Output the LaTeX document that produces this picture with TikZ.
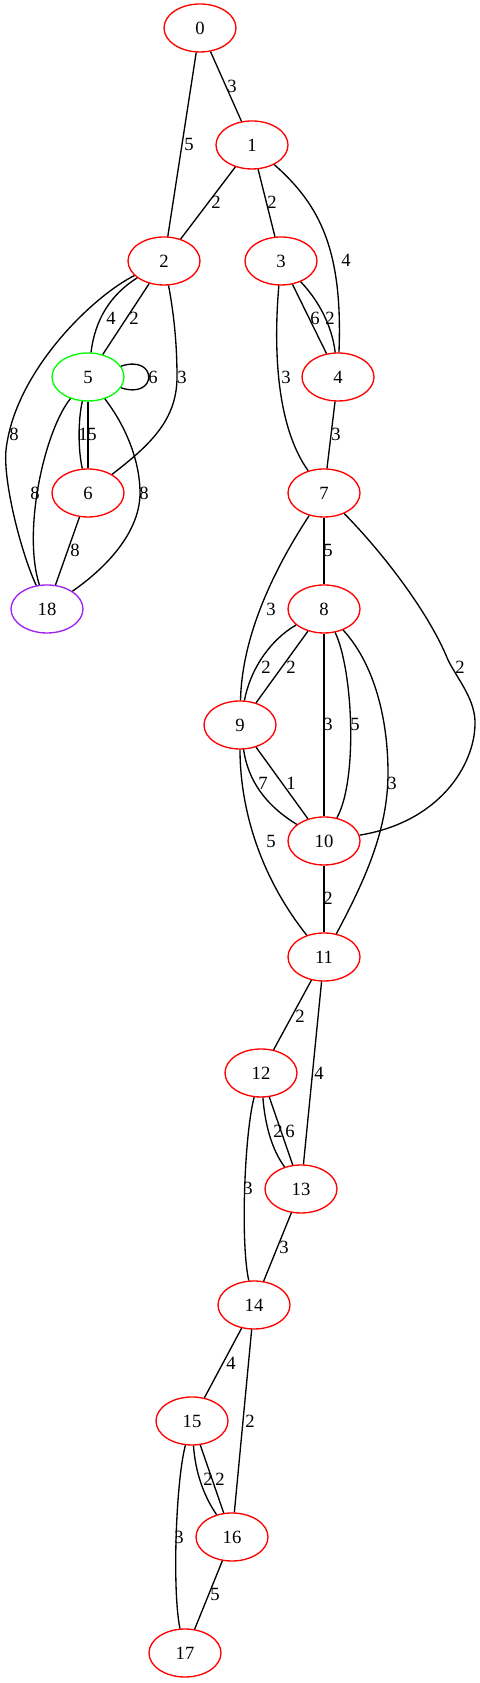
\documentclass[tikz,border=0pt]{standalone}
\usepackage{fontspec}
\setmainfont{Liberation Serif}
\usetikzlibrary{shapes.geometric}
\definecolor{vtxred}{HTML}{FF0000}
\definecolor{vtxgreen}{HTML}{00FF00}
\definecolor{vtxpurple}{HTML}{A020F0}
\begin{document}
\begin{tikzpicture}[>=latex,line join=bevel,
  vertex/.style={ellipse,draw=vtxred,line width=1bp,minimum width=54bp,minimum height=36bp,inner sep=0pt,font=\fontsize{14bp}{16bp}\selectfont},
  elabel/.style={inner sep=0pt,font=\fontsize{14bp}{16bp}\selectfont},
  edge/.style={black,line width=1bp}]
\useasboundingbox (0bp,0bp) rectangle (360bp,1262.25bp);
%%
\node (node_0) at (150bp,1241.25bp) [vertex] {0};
  \node (node_1) at (189bp,1153.5bp) [vertex] {1};
  \node (node_2) at (123bp,1066.5bp) [vertex] {2};
  \node (node_3) at (210.75bp,1066.5bp) [vertex] {3};
  \node (node_4) at (253.5bp,979.5bp) [vertex] {4};
  \node (node_5) at (66bp,979.5bp) [vertex,draw=vtxgreen] {5};
  \node (node_6) at (66bp,892.5bp) [vertex] {6};
  \node (node_7) at (243bp,892.5bp) [vertex] {7};
  \node (node_8) at (243bp,805.5bp) [vertex] {8};
  \node (node_9) at (180bp,718.5bp) [vertex] {9};
  \node (node_10) at (243bp,631.5bp) [vertex] {10};
  \node (node_11) at (243bp,544.5bp) [vertex] {11};
  \node (node_12) at (195.75bp,457.5bp) [vertex] {12};
  \node (node_13) at (225.75bp,370.5bp) [vertex] {13};
  \node (node_14) at (190.5bp,283.5bp) [vertex] {14};
  \node (node_15) at (144bp,196.5bp) [vertex] {15};
  \node (node_16) at (174bp,109.5bp) [vertex] {16};
  \node (node_17) at (138.75bp,22.5bp) [vertex] {17};
  \node (node_18) at (35.25bp,805.5bp) [vertex,draw=vtxpurple] {18};
%
  \draw [edge] (node_0) -- (node_1);
  \node (lbl_0_1) at (174bp,1197.75bp) [elabel] {3};
  \draw [edge] (node_0) -- (node_2);
  \node (lbl_0_2) at (141.75bp,1154.25bp) [elabel] {5};
  \draw [edge] (node_1) -- (node_2);
  \node (lbl_1_2) at (162bp,1110.75bp) [elabel] {2};
  \draw [edge] (node_1) -- (node_3);
  \node (lbl_1_3) at (204bp,1110.75bp) [elabel] {2};
  \draw [edge] (node_1) .. controls (240bp,1108.5bp) and (257.25bp,1074.75bp) .. (node_4);
  \node (lbl_1_4) at (259.5bp,1067.25bp) [elabel] {4};
  \draw [edge] (node_2) .. controls (82.5bp,1041bp) and (71.25bp,1022.25bp) .. (node_5);
  \node (lbl_2_5a) at (83.25bp,1023.75bp) [elabel] {4};
  \draw [edge] (node_2) -- (node_5);
  \node (lbl_2_5b) at (100.5bp,1023.75bp) [elabel] {2};
  \draw [edge] (node_2) .. controls (131.25bp,1022.25bp) and (132.75bp,999.75bp) .. (132.75bp,979.5bp)
    .. controls (132.75bp,947.25bp) and (112.5bp,928.5bp) .. (node_6);
  \node (lbl_2_6) at (136.5bp,979.5bp) [elabel] {3};
  \draw [edge] (node_2) .. controls (71.25bp,1041bp) and (11.25bp,984.75bp) .. (4.5bp,924.75bp)
    .. controls (2.25bp,902.25bp) and (15bp,849.75bp) .. (node_18);
  \node (lbl_2_18) at (10.5bp,936.75bp) [elabel] {8};
  \draw [edge] (node_3) -- (node_4);
  \node (lbl_3_4a) at (236.25bp,1023.75bp) [elabel] {6};
  \draw [edge] (node_3) .. controls (238.5bp,1037.25bp) and (249bp,1018.5bp) .. (node_4);
  \node (lbl_3_4b) at (247.5bp,1023.75bp) [elabel] {2};
  \draw [edge] (node_3) .. controls (206.25bp,1014.75bp) and (204bp,947.25bp) .. (node_7);
  \node (lbl_3_7) at (214.5bp,979.5bp) [elabel] {3};
  \draw [edge] (node_4) -- (node_7);
  \node (lbl_4_7) at (252bp,936.75bp) [elabel] {3};
  \draw [edge] (node_5) .. controls (118.5bp,996.75bp) and (118.5bp,962.25bp) .. (node_5);
  \node (lbl_5_5) at (114.75bp,979.5bp) [elabel] {6};
  \draw [edge] (node_5) .. controls (58.5bp,947.25bp) and (58.5bp,924.75bp) .. (node_6);
  \node (lbl_5_6a) at (62.25bp,936.75bp) [elabel] {1};
  \draw [edge] (node_5) -- (node_6);
  \node (lbl_5_6b) at (69bp,936.75bp) [elabel] {5};
  \draw [edge] (node_5) .. controls (33.75bp,939.75bp) and (16.5bp,864.75bp) .. (node_18);
  \node (lbl_5_18a) at (26.25bp,892.5bp) [elabel] {8};
  \draw [edge] (node_5) .. controls (93.75bp,943.5bp) and (105bp,917.25bp) .. (105bp,892.5bp)
    .. controls (105bp,864.75bp) and (82.5bp,838.5bp) .. (node_18);
  \node (lbl_5_18b) at (108bp,892.5bp) [elabel] {8};
  \draw [edge] (node_6) -- (node_18);
  \node (lbl_6_18) at (56.25bp,849.75bp) [elabel] {8};
  \draw [edge] (node_7) -- (node_8);
  \node (lbl_7_8) at (246bp,849.75bp) [elabel] {5};
  \draw [edge] (node_7) .. controls (210bp,842.25bp) and (181.5bp,789.75bp) .. (node_9);
  \node (lbl_7_9) at (203.25bp,805.5bp) [elabel] {3};
  \draw [edge] (node_7) .. controls (288.75bp,846bp) and (322.5bp,801bp) .. (336bp,767.25bp)
    .. controls (343.5bp,752.25bp) and (357bp,737.25bp) .. (356.25bp,718.5bp)
    .. controls (355.5bp,688.5bp) and (330bp,645.75bp) .. (node_10);
  \node (lbl_7_10) at (345bp,762bp) [elabel] {2};
  \draw [edge] (node_8) .. controls (202.5bp,782.25bp) and (187.5bp,759.75bp) .. (node_9);
  \node (lbl_8_9a) at (199.5bp,762bp) [elabel] {2};
  \draw [edge] (node_8) -- (node_9);
  \node (lbl_8_9b) at (218.25bp,762bp) [elabel] {2};
  \draw [edge] (node_8) -- (node_10);
  \node (lbl_8_10a) at (246bp,719.25bp) [elabel] {3};
  \draw [edge] (node_8) .. controls (264.75bp,759.75bp) and (268.5bp,677.25bp) .. (node_10);
  \node (lbl_8_10b) at (266.25bp,719.25bp) [elabel] {5};
  \draw [edge] (node_8) .. controls (281.25bp,763.5bp) and (291bp,722.25bp) .. (291bp,682.5bp)
    .. controls (291bp,639.75bp) and (273.75bp,602.25bp) .. (node_11);
  \node (lbl_8_11) at (294bp,675bp) [elabel] {3};
  \draw [edge] (node_9) .. controls (186bp,677.25bp) and (198.75bp,658.5bp) .. (node_10);
  \node (lbl_9_10a) at (197.25bp,675bp) [elabel] {7};
  \draw [edge] (node_9) -- (node_10);
  \node (lbl_9_10b) at (218.25bp,675bp) [elabel] {1};
  \draw [edge] (node_9) .. controls (180bp,662.25bp) and (191.25bp,609.75bp) .. (node_11);
  \node (lbl_9_11) at (203.25bp,631.5bp) [elabel] {5};
  \draw [edge] (node_10) -- (node_11);
  \node (lbl_10_11) at (246bp,588.75bp) [elabel] {2};
  \draw [edge] (node_11) -- (node_12);
  \node (lbl_11_12) at (225bp,500.25bp) [elabel] {2};
  \draw [edge] (node_11) -- (node_13);
  \node (lbl_11_13) at (239.25bp,457.5bp) [elabel] {4};
  \draw [edge] (node_12) .. controls (198.75bp,418.5bp) and (204bp,399.75bp) .. (node_13);
  \node (lbl_12_13a) at (208.5bp,414bp) [elabel] {2};
  \draw [edge] (node_12) -- (node_13);
  \node (lbl_12_13b) at (217.5bp,414bp) [elabel] {6};
  \draw [edge] (node_12) .. controls (183.75bp,414.75bp) and (180bp,332.25bp) .. (node_14);
  \node (lbl_12_14) at (186bp,371.25bp) [elabel] {3};
  \draw [edge] (node_13) -- (node_14);
  \node (lbl_13_14) at (213bp,327bp) [elabel] {3};
  \draw [edge] (node_14) -- (node_15);
  \node (lbl_14_15) at (173.25bp,240bp) [elabel] {4};
  \draw [edge] (node_14) -- (node_16);
  \node (lbl_14_16) at (187.5bp,196.5bp) [elabel] {2};
  \draw [edge] (node_15) .. controls (146.25bp,159.75bp) and (152.25bp,141bp) .. (node_16);
  \node (lbl_15_16a) at (156bp,153bp) [elabel] {2};
  \draw [edge] (node_15) -- (node_16);
  \node (lbl_15_16b) at (165bp,153bp) [elabel] {2};
  \draw [edge] (node_15) .. controls (132bp,152.25bp) and (129bp,69.75bp) .. (node_17);
  \node (lbl_15_17) at (134.25bp,109.5bp) [elabel] {3};
  \draw [edge] (node_16) -- (node_17);
  \node (lbl_16_17) at (161.25bp,66.75bp) [elabel] {5};
%
\end{tikzpicture}
\end{document}
